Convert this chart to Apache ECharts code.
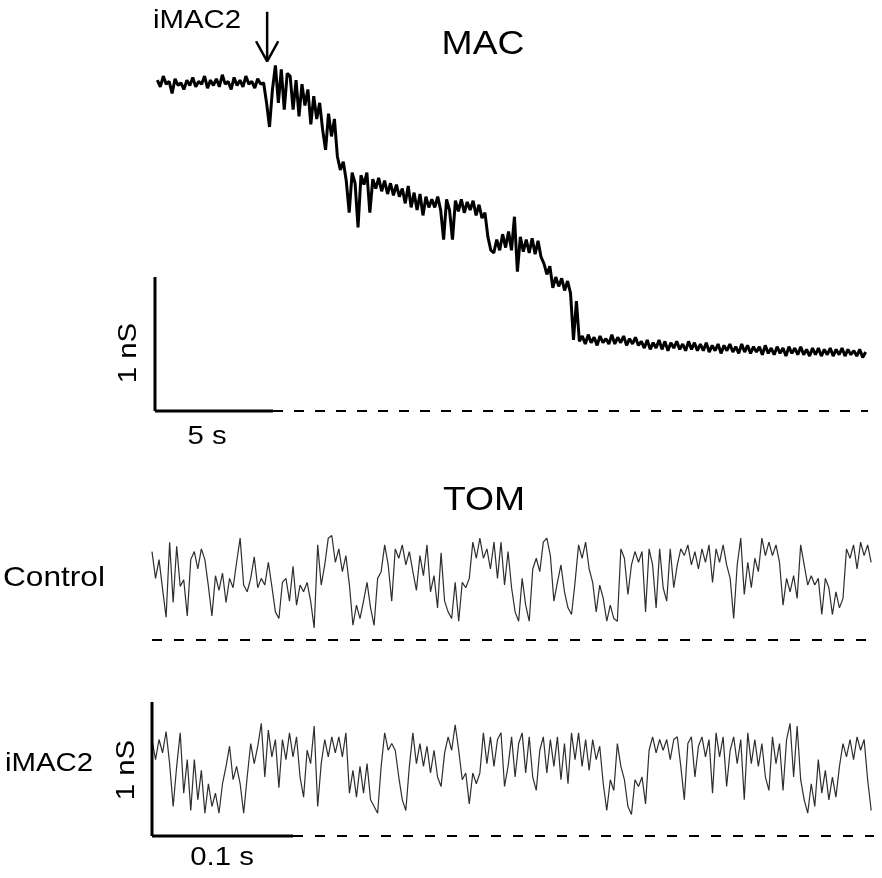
<!DOCTYPE html>
<html><head><meta charset="utf-8">
<script src="https://cdn.jsdelivr.net/npm/echarts@6/dist/echarts.min.js"></script>
<style>html,body{margin:0;padding:0;background:#fff}#c{width:882px;height:878px}</style>
</head><body><div id="c"></div>
<script>
// ---- MAC recording (conductance, nS) sampled every macStep seconds from macStart ----
const macStart = 0.1;
const macStep = 0.125;
const macValues = [
2.47,2.42,2.50,2.44,2.46,2.37,2.48,2.43,2.45,2.40,
2.47,2.43,2.49,2.42,2.46,2.44,2.50,2.41,2.47,2.43,
2.48,2.42,2.51,2.44,2.46,2.40,2.49,2.43,2.47,2.42,
2.50,2.44,2.46,2.41,2.48,2.44,2.45,
2.30,2.12,2.40,
2.58,2.30,2.55,2.25,2.52,
2.50,2.25,2.47,2.20,2.44,2.28,
2.40,2.14,2.35,2.18,2.30,2.10,1.95,
2.22,2.05,2.18,
1.90,1.80,1.86,
1.72,1.48,1.78,1.70,1.37,1.76,1.69,1.78,1.48,1.73,1.66,1.74,1.64,1.72,1.62,1.70,1.61,1.69,1.60,
1.66,1.55,1.68,1.52,1.63,1.50,1.62,1.46,1.60,1.52,1.58,
1.52,1.60,1.50,1.28,1.58,1.50,1.28,1.57,1.49,1.58,1.48,1.56,1.50,1.57,1.46,1.54,1.44,
1.48,1.30,1.20,
1.18,1.28,1.20,1.32,1.22,1.34,1.20,1.45,1.04,1.30,1.19,1.28,1.18,1.29,1.17,1.27,1.15,
1.10,1.02,1.08,
0.92,1.00,0.93,0.99,0.90,0.97,0.88,
0.53,0.82,0.52,
0.56,0.50,0.57,0.51,0.55,0.49,0.56,0.51,0.54,0.50,0.57,0.50,0.55,0.51,0.56,0.49,0.54,0.50,0.55,0.49,
0.52,0.47,0.53,0.46,0.51,0.47,0.53,0.46,0.52,0.45,0.51,0.47,0.52,0.46,0.50,0.45,0.52,0.46,0.51,0.45,
0.50,0.45,0.51,0.44,0.49,0.45,0.50,0.43,0.49,0.45,0.50,0.44,0.48,0.43,0.50,0.44,0.49,0.43,0.48,0.44,
0.48,0.42,0.49,0.43,0.47,0.42,0.48,0.43,0.47,0.41,0.48,0.43,0.47,0.42,0.48,0.42,0.46,0.41,0.47,0.42,
0.47,0.41,0.46,0.42,0.47,0.41,0.46,0.42,0.47,0.41,0.46,0.42,0.45,0.41,0.46,0.40,0.44
];
const macEnd = 30.2;        // s, end of baseline
const macScaleS = 5;        // s
const macScaleNS = 1;       // nS
const macArrowT = 4.75;     // s, iMAC2 addition

// ---- TOM recordings (conductance, nS) sampled every tomStep ms ----
const tomStep = 2.5;
const tomControl = [
0.66,0.46,0.60,0.38,0.17,0.73,0.28,0.70,0.40,0.45,0.18,0.60,0.66,0.53,0.68,0.60,0.40,0.18,0.48,0.37,0.50,0.28,0.46,
0.39,0.58,0.76,0.41,0.36,0.46,0.62,0.39,0.46,0.41,0.58,0.40,0.21,0.16,0.43,0.46,0.29,0.55,0.26,0.41,0.36,0.43,0.29,0.09,0.71,0.41,0.56,0.76,0.78,0.58,0.68,0.51,0.63,0.41,0.11,0.26,0.16,0.29,0.43,0.24,0.11,0.46,0.51,0.71,0.56,0.29,
0.68,0.61,0.71,0.56,0.66,0.51,0.37,0.63,0.48,0.71,
0.36,0.48,0.24,0.65,0.29,0.21,0.16,0.43,0.14,0.43,
0.39,0.46,0.73,0.61,0.76,0.61,0.68,0.53,0.73,0.46,
0.73,0.41,0.66,0.39,0.21,0.14,0.46,0.26,0.14,0.53,
0.61,0.51,0.73,0.76,0.63,0.29,0.43,0.56,0.36,0.24,
0.19,0.43,0.71,0.61,0.73,0.53,0.43,0.21,0.41,0.31,
0.14,0.26,0.16,0.14,0.68,0.61,0.34,0.56,
0.66,0.58,0.66,0.21,0.68,0.56,0.24,0.68,0.39,0.29,
0.68,0.39,0.56,0.68,0.63,0.71,0.56,0.66,0.53,0.68,
0.58,0.71,0.43,0.68,0.58,0.71,0.56,0.46,0.16,0.56,
0.76,0.34,0.58,0.39,0.61,0.51,0.76,0.63,0.73,0.63,
0.71,0.58,0.26,0.46,0.36,0.48,0.31,0.71,0.56,0.41,
0.48,0.41,0.46,0.19,0.46,0.39,0.19,0.36,0.24,0.31,
0.68,0.61,0.71,0.53,0.73,0.63,0.71,0.58
];
const tomIMAC2 = [
0.72,0.57,0.72,0.62,0.78,0.54,0.22,0.52,0.77,0.32,
0.57,0.19,0.57,0.27,0.49,0.17,0.39,0.22,0.32,0.17,
0.39,0.52,0.67,0.42,0.52,0.39,0.17,0.44,0.69,0.54,
0.67,0.84,0.44,0.79,0.59,0.72,0.36,0.72,0.57,0.77,
0.59,0.74,0.44,0.29,0.64,0.54,0.82,0.22,0.54,0.72,
0.59,0.74,0.62,0.74,0.59,0.77,0.32,0.49,0.29,0.52,
0.32,0.54,0.27,0.22,0.17,0.52,0.77,0.64,0.69,
0.64,0.44,0.27,0.19,0.52,0.77,0.54,0.69,0.52,0.67,
0.47,0.64,0.44,0.37,0.62,0.74,0.64,0.83,0.64,0.42,
0.47,0.24,0.47,0.39,0.47,0.77,0.54,0.74,0.52,0.72,
0.77,0.37,0.52,0.74,0.44,0.69,0.77,0.47,0.74,0.44,
0.34,0.64,0.74,0.47,0.72,0.52,0.74,0.42,0.69,0.39,
0.77,0.57,0.77,0.52,0.72,0.49,0.72,0.57,0.67,0.39,
0.19,0.42,0.34,0.69,0.52,0.42,0.22,0.16,
0.42,0.37,0.44,0.24,0.64,0.74,0.62,0.72,0.64,0.72,
0.57,0.72,0.74,0.52,0.27,0.69,0.74,0.44,0.67,0.74,
0.59,0.72,0.32,0.77,0.59,0.74,0.37,0.64,0.74,0.54,
0.72,0.27,0.77,0.54,0.72,0.52,0.69,0.44,0.34,0.74,
0.54,0.69,0.34,0.72,0.84,0.44,0.82,0.42,0.27,0.17,
0.39,0.22,0.57,0.32,0.49,0.27,0.44,0.29,0.52,0.69,
0.59,0.72,0.57,0.74,0.64,0.72,0.42,0.19
];
const tomEnd = 512;      // ms
const tomScaleMs = 100;  // ms
const tomScaleNS = 1;    // nS

const FONT = '"Liberation Sans", Arial, Helvetica, sans-serif';

const chart = echarts.init(document.getElementById('c'), null, {renderer: 'canvas'});

function seg(pts, grid, width, dash, color) {
  return {
    type: 'line', xAxisIndex: grid, yAxisIndex: grid, data: pts,
    symbol: 'none', silent: true, clip: false, animation: false,
    lineStyle: {color: color || '#000', width: width, type: dash || 'solid', cap: 'butt'}
  };
}

const macData = macValues.map((v, i) => [macStart + i * macStep, v]);
const ctlData = tomControl.map((v, k) => [k * tomStep, v]);
const imcData = tomIMAC2.map((v, k) => [k * tomStep, v]);

const xAx = (min, max, g) => ({type: 'value', gridIndex: g, min: min, max: max, show: false});
const yAx = (min, max, g) => ({type: 'value', gridIndex: g, min: min, max: max, show: false});

function txt(text, x, y, size, rot) {
  return {
    type: 'text', x: x, y: y, rotation: rot || 0, scaleX: 1.13, scaleY: 1, silent: true,
    style: {text: text, font: size + 'px ' + FONT, fill: '#000',
            textAlign: 'center', textVerticalAlign: 'middle', align: 'center', verticalAlign: 'middle'}
  };
}

chart.setOption({
  animation: false,
  backgroundColor: '#fff',
  grid: [
    {left: 155, top: 56, width: 713, height: 355},
    {left: 152, top: 506, width: 722, height: 134},
    {left: 152, top: 702, width: 722, height: 134}
  ],
  xAxis: [xAx(0, macEnd, 0), xAx(0, tomEnd, 1), xAx(0, tomEnd, 2)],
  yAxis: [yAx(0, 2.65, 0), yAx(0, 1, 1), yAx(0, 1, 2)],
  series: [
    seg(macData, 0, 3, 'solid', '#000'),
    seg([[0, 0], [0, macScaleNS]], 0, 3),
    seg([[0, 0], [macScaleS, 0]], 0, 3),
    seg([[macScaleS, 0], [macEnd, 0]], 0, 2, [10, 11]),
    seg([[macArrowT, 2.98], [macArrowT, 2.62]], 0, 2.5),
    seg([[macArrowT - 0.47, 2.76], [macArrowT, 2.61], [macArrowT + 0.47, 2.76]], 0, 2.5),

    seg(ctlData, 1, 1.2, 'solid', '#2e2e2e'),
    seg([[0, 0], [tomEnd, 0]], 1, 2, [10, 12]),

    seg(imcData, 2, 1.2, 'solid', '#2e2e2e'),
    seg([[0, 0], [0, tomScaleNS]], 2, 3),
    seg([[0, 0], [tomScaleMs, 0]], 2, 3),
    seg([[tomScaleMs, 0], [tomEnd, 0]], 2, 2, [10, 12])
  ],
  graphic: [
    txt('MAC', 483, 45, 33),
    txt('iMAC2', 197, 21, 26),
    txt('1 nS', 129, 353, 26, Math.PI / 2),
    txt('5 s', 207, 437, 26),
    txt('TOM', 484, 501, 33),
    txt('Control', 54, 578, 28),
    txt('iMAC2', 49, 764, 26),
    txt('1 nS', 127, 770, 26, Math.PI / 2),
    txt('0.1 s', 222, 858, 26)
  ]
});
</script>
</body></html>
